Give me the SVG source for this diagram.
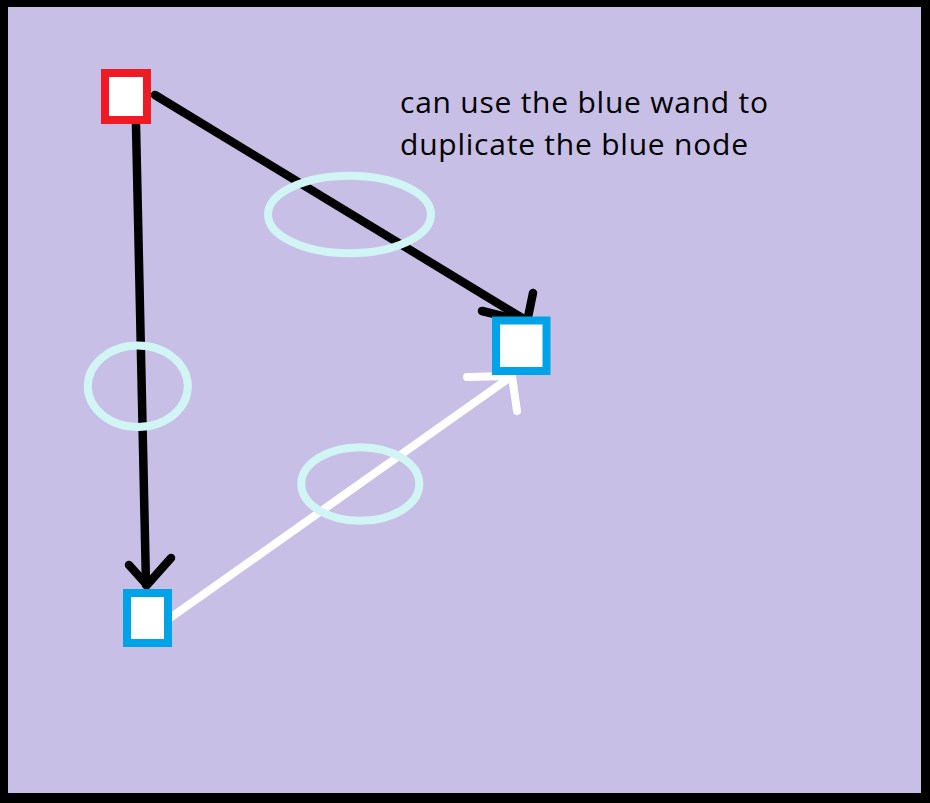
<svg xmlns="http://www.w3.org/2000/svg" width="930" height="803" viewBox="0 0 930 803">
  <defs>
    <style>
      .frame { fill: #000000; }
      .bg { fill: #c8bfe7; }
      .node-red { fill: #ffffff; stroke: #ed1c24; stroke-width: 8; }
      .node-blue { fill: #ffffff; stroke: #00a2e8; stroke-width: 8; }
      .edge-black { fill: none; stroke: #000000; stroke-width: 8.5; stroke-linecap: round; stroke-linejoin: round; }
      .edge-white { fill: none; stroke: #ffffff; stroke-width: 8; stroke-linecap: round; stroke-linejoin: round; }
      .mark { fill: none; stroke: #d1f5f5; stroke-width: 8; }
      .label { font-family: "Open Sans", "Noto Sans", "Liberation Sans", sans-serif; font-size: 30px; fill: #000000; }
    </style>
  </defs>
  <rect class="frame" x="0" y="0" width="930" height="803"/>
  <rect class="bg" x="8" y="7" width="913" height="786"/>

  <g id="connectors">
    <g id="edge-red-to-blue2">
      <path class="edge-black" d="M155,95 L527,321"/>
      <path class="edge-black" d="M482,311 L527,322 L533,293"/>
    </g>
    <g id="edge-red-to-blue1">
      <path class="edge-black" d="M136,125 L146,585"/>
      <path class="edge-black" d="M129,565 L147,585 L171,558"/>
    </g>
    <g id="edge-blue1-to-blue2">
      <path class="edge-white" d="M170,618 L512,376"/>
      <path class="edge-white" d="M467,377 L512,376 L517,411"/>
    </g>
  </g>

  <g id="node-red">
    <rect class="node-red" x="105" y="73" width="42" height="47"/>
  </g>
  <g id="node-blue-2">
    <rect class="node-blue" x="496" y="320.5" width="50.5" height="50.5"/>
  </g>
  <g id="node-blue-1">
    <rect class="node-blue" x="127" y="593" width="41" height="50"/>
  </g>

  <g id="markers">
    <ellipse class="mark" cx="349.5" cy="214.5" rx="81.5" ry="38.7"/>
    <ellipse class="mark" cx="137.8" cy="386.3" rx="50" ry="40.7"/>
    <ellipse class="mark" cx="360.3" cy="484" rx="59" ry="36.8"/>
  </g>

  <g id="note">
    <text class="label" x="400" y="113" textLength="368" lengthAdjust="spacing">can use the blue wand to</text>
    <text class="label" x="400" y="155" textLength="348" lengthAdjust="spacing">duplicate the blue node</text>
  </g>
</svg>
